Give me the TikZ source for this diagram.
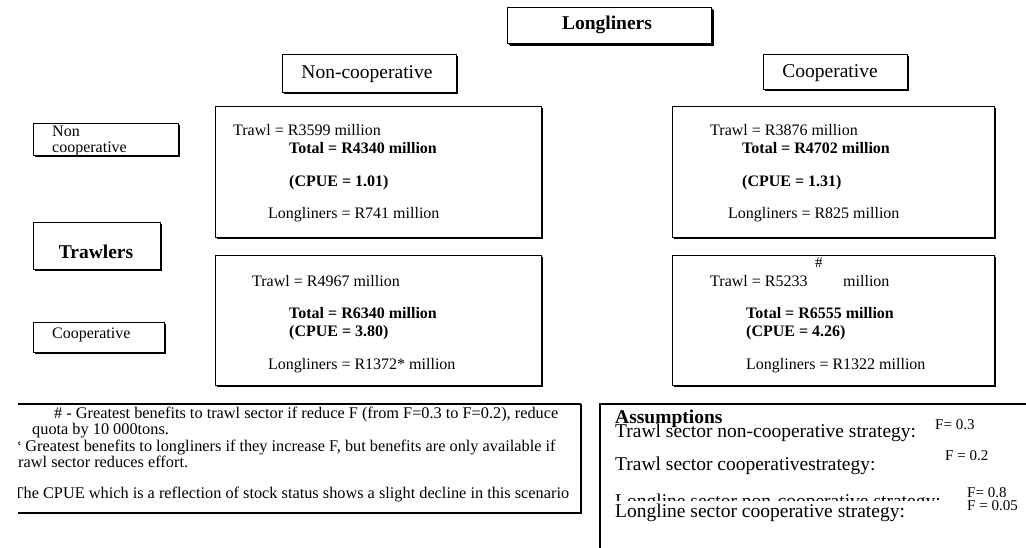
\documentclass[tikz,border=0pt]{standalone}
\usepackage{fontspec}
\setmainfont{Liberation Serif}
\usetikzlibrary{shadows}
\begin{document}
\begin{tikzpicture}[x=1pt,y=-1pt,
  box/.style={draw, line width=1.1pt, fill=white, inner sep=0pt, anchor=north west,
     drop shadow={shadow xshift=1.3pt, shadow yshift=-1.3pt, opacity=1, fill=black}},
  bigbox/.style={box, drop shadow={shadow xshift=2.6pt, shadow yshift=-2.6pt, opacity=1, fill=black}},
  txt/.style={anchor=base west, inner sep=0pt, font=\fontsize{16}{18}\selectfont},
  btxt/.style={anchor=base west, inner sep=0pt, font=\fontsize{16}{18}\selectfont\bfseries},
  lbl/.style={anchor=center, inner sep=0pt, font=\fontsize{19.5}{22}\selectfont},
  blbl/.style={anchor=center, inner sep=0pt, font=\fontsize{19.5}{22}\selectfont\bfseries},
  note/.style={anchor=base west, inner sep=0pt, font=\fontsize{16.3}{18}\selectfont},
  asum/.style={anchor=base west, inner sep=0pt, font=\fontsize{19.5}{22}\selectfont},
  fval/.style={anchor=base west, inner sep=0pt, font=\fontsize{15}{17}\selectfont},
  edge/.style={line width=1.1pt},
  thickedge/.style={line width=2.4pt}
]
\useasboundingbox (0,0) rectangle (1026,548);

% header boxes
\node[bigbox, minimum width=204pt, minimum height=36pt] (long) at (507,7) {};
\node[blbl] (longt) at (607,25) {Longliners};
\node[box, minimum width=174pt, minimum height=38pt] (nc) at (282,54) {};
\node[lbl] (nct) at (367,74) {Non-cooperative};
\node[box, minimum width=144pt, minimum height=35pt] (co) at (763,54) {};
\node[lbl] (cot) at (830,73) {Cooperative};

% left labels
\node[box, minimum width=145pt, minimum height=32pt] (lnc) at (33,123) {};
\node[txt] (lnct1) at (52,137) {Non};
\node[txt] (lnct2) at (52,153) {cooperative};
\node[box, minimum width=127pt, minimum height=47pt] (tr) at (33,222) {};
\node[blbl] (trt) at (96,252) {Trawlers};
\node[box, minimum width=131pt, minimum height=30pt] (lco) at (33,322) {};
\node[txt] (lcot) at (52,338) {Cooperative};

% result boxes
\node[box, minimum width=326pt, minimum height=131pt] (b1) at (215,106) {};
\node[box, minimum width=322pt, minimum height=131pt] (b2) at (672,106) {};
\node[box, minimum width=326pt, minimum height=130pt] (b3) at (215,255) {};
\node[box, minimum width=322pt, minimum height=130pt] (b4) at (672,255) {};

\node[txt]  (b1a) at (233,136) {Trawl = R3599 million};
\node[btxt] (b1b) at (289,154) {Total = R4340 million};
\node[btxt] (b1c) at (289,187) {(CPUE = 1.01)};
\node[txt]  (b1d) at (268,219) {Longliners = R741 million};

\node[txt]  (b2a) at (710,136) {Trawl = R3876 million};
\node[btxt] (b2b) at (742,154) {Total = R4702 million};
\node[btxt] (b2c) at (742,187) {(CPUE = 1.31)};
\node[txt]  (b2d) at (728,219) {Longliners = R825 million};

\node[txt]  (b3a) at (252,287) {Trawl = R4967 million};
\node[btxt] (b3b) at (289,318) {Total = R6340 million};
\node[btxt] (b3c) at (289,336) {(CPUE = 3.80)};
\node[txt]  (b3d) at (268,369) {Longliners = R1372* million};

\node[fval] (b4h) at (815,268) {\#};
\node[txt]  (b4a) at (710,287) {Trawl = R5233};
\node[txt]  (b4m) at (843,287) {million};
\node[btxt] (b4b) at (746,318) {Total = R6555 million};
\node[btxt] (b4c) at (746,336) {(CPUE = 4.26)};
\node[txt]  (b4d) at (746,369) {Longliners = R1322 million};

% notes box (left border not shown)
\coordinate (nTL) at (18,404);
\coordinate (nTR) at (581,404);
\coordinate (nBR) at (581,513);
\coordinate (nBL) at (18,513);
\draw[edge] (nTL) -- (nTR);
\draw[thickedge] (nTR) -- (nBR) -- (nBL);
\begin{scope}
\clip (18,396) rectangle (580,512);
\node[note] (n1) at (54,418) {\# - Greatest benefits to trawl sector if reduce F (from F=0.3 to F=0.2), reduce};
\node[note] (n2) at (32,434) {quota by 10 000tons.};
\node[note] (n3) at (13,451) {* Greatest benefits to longliners if they increase F, but benefits are only available if};
\node[note] (n4) at (13.5,467) {trawl sector reduces effort.};
\node[note] (n5) at (13.5,498) {The CPUE which is a reflection of stock status shows a slight decline in this scenario};
\end{scope}

% assumptions box (runs off the picture)
\coordinate (aBL) at (600,548);
\coordinate (aTL) at (600,404);
\coordinate (aTR) at (1026,404);
\draw[edge] (aBL) -- (aTL) -- (aTR);
\node[asum, font=\fontsize{19.5}{22}\selectfont\bfseries] (a0) at (615,423) {Assumptions};
\node[asum] (a1) at (615,437) {Trawl sector non-cooperative strategy:};
\node[asum] (a2) at (615,470) {Trawl sector cooperativestrategy:};
\begin{scope}
\clip (605,480) rectangle (960,500);
\node[asum] (a3) at (615,507) {Longline sector non-cooperative strategy:};
\end{scope}
\node[asum] (a4) at (615,517) {Longline sector cooperative strategy:};
\node[fval] (f1) at (935,429) {F= 0.3};
\node[fval] (f2) at (945,460) {F = 0.2};
\node[fval] (f3) at (967,497) {F= 0.8};
\node[fval] (f4) at (967,510) {F = 0.05};
\end{tikzpicture}
\end{document}
